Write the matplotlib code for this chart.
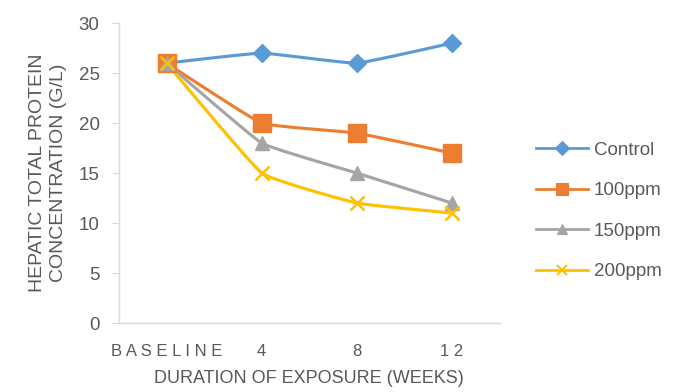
import numpy as np
import matplotlib.pyplot as plt

# Hepatic total protein (g/L) by exposure group
weeks = ["B A S E L I N E", "4", "8", "1 2"]
control = [26, 27, 26, 28]
ppm100 = [26, 20, 19, 17]
ppm150 = [26, 18, 15, 12]
ppm200 = [26, 15, 12, 11]

series = [
    ("Control", control, "#5B9BD5", "D", 9.5),
    ("100ppm", ppm100, "#ED7D31", "s", 12.5),
    ("150ppm", ppm150, "#A5A5A5", "^", 10.5),
    ("200ppm", ppm200, "#FFC000", "x", 10),
]


def smooth(x, y, k=0.3, n=25):
    # Hermite curve through the points with softened tangents
    pts = np.column_stack([x, y]).astype(float)
    m = np.zeros_like(pts)
    m[1:-1] = k * (pts[2:] - pts[:-2]) / 2
    m[0] = k * (pts[1] - pts[0]) / 2
    m[-1] = k * (pts[-1] - pts[-2]) / 2
    t = np.linspace(0, 1, n)[:, None]
    h00 = 2 * t**3 - 3 * t**2 + 1
    h10 = t**3 - 2 * t**2 + t
    h01 = -2 * t**3 + 3 * t**2
    h11 = t**3 - t**2
    segs = [h00 * pts[i] + h10 * m[i] + h01 * pts[i + 1] + h11 * m[i + 1]
            for i in range(len(pts) - 1)]
    curve = np.vstack(segs)
    return curve[:, 0], curve[:, 1]


plt.rcParams['font.family'] = ['Liberation Sans', 'DejaVu Sans']
text_color = "#595959"

fig = plt.figure(figsize=(6.75, 3.92), dpi=100)
ax = fig.add_axes([0.1763, 0.176, 0.5637, 0.765])

x = np.arange(len(weeks))
handles = []
for name, vals, color, marker, ms in series:
    sx, sy = smooth(x, vals)
    ax.plot(sx, sy, color=color, lw=2.25, solid_capstyle="round", zorder=2)
    mew = 1.8 if marker == "x" else 1
    ax.plot(x, vals, linestyle="none", marker=marker, markersize=ms,
            color=color, markeredgewidth=mew, zorder=3)
    h, = ax.plot([], [], color=color, lw=2, marker=marker, markersize=ms * 0.7,
                 markeredgewidth=mew * 0.8, label=name)
    handles.append(h)

ax.set_xlim(-0.5, len(weeks) - 0.5)
ax.set_ylim(0, 30)
ax.set_yticks(range(0, 31, 5))
ax.set_xticks(x)
ax.set_xticklabels(weeks)

for side in ("top", "right"):
    ax.spines[side].set_visible(False)
for side in ("left", "bottom"):
    ax.spines[side].set_color("#D9D9D9")
    ax.spines[side].set_linewidth(1)

ax.tick_params(axis="y", colors="#D9D9D9", labelcolor=text_color,
               labelsize=13.5, length=5, pad=9)
ax.tick_params(axis="x", length=0, labelcolor=text_color, labelsize=12, pad=15)

ax.set_xlabel("DURATION OF EXPOSURE (WEEKS)", color=text_color, fontsize=13,
              labelpad=8)
ax.set_ylabel("HEPATIC TOTAL PROTEIN\nCONCENTRATION (G/L)", color=text_color,
              fontsize=14, labelpad=8, linespacing=1.35)

fig.legend(handles=handles, loc="center left", bbox_to_anchor=(0.794, 0.462),
           frameon=False, fontsize=13.5, labelcolor=text_color,
           borderpad=0, borderaxespad=0, handlelength=2.75,
           labelspacing=1.25, handletextpad=0.35)

fig.savefig("out.png", dpi=100)
